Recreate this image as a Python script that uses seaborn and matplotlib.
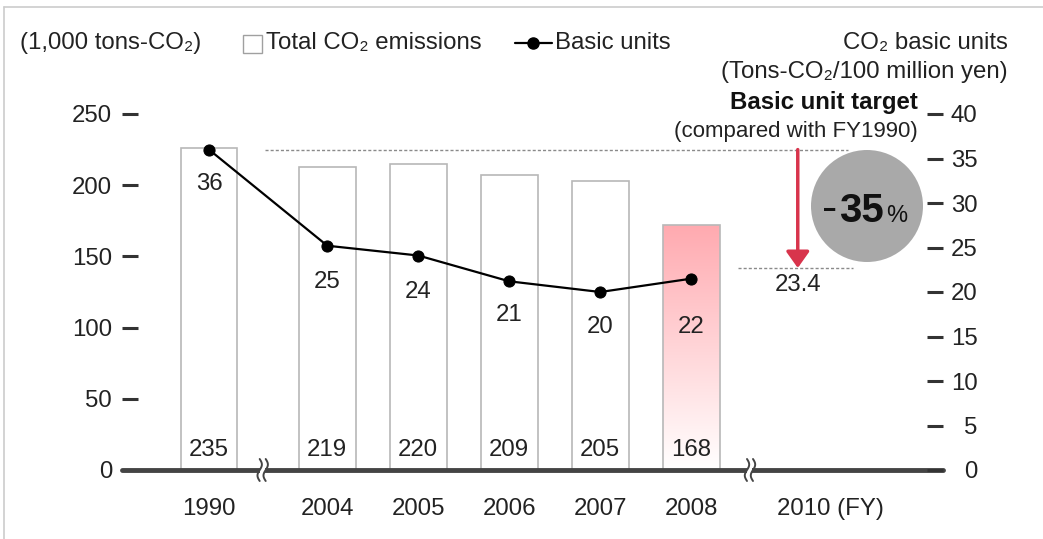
"""
CO2 emissions (bars) and CO2 basic units (line), with the FY2010 target.
"""

import numpy as np
import pandas as pd
import matplotlib
matplotlib.use("Agg")
import matplotlib.pyplot as plt
import seaborn as sns
from matplotlib.colors import LinearSegmentedColormap
from matplotlib.lines import Line2D
from matplotlib.patches import Rectangle, Ellipse
from matplotlib.transforms import ScaledTranslation

# data
years = ["1990", "2004", "2005", "2006", "2007", "2008"]
total_emissions = [226, 213, 215, 207, 203, 172]          # bar heights as drawn
total_labels = ["235", "219", "220", "209", "205", "168"]
basic_units = [36, 25.2, 24.1, 21.2, 20.0, 21.5]
unit_labels = ["36", "25", "24", "21", "20", "22"]
target_year = "2010 (FY)"
base_unit = 36
target_unit = 22.7
target_label = "23.4"
reduction = "35"
left_ticks = [0, 50, 100, 150, 200, 250]
right_ticks = [0, 5, 10, 15, 20, 25, 30, 35, 40]

W, H = 1043, 539
TXT = "#222222"
FS = 17.3


def fx(px):
    return px / W


def fy(py):
    return 1 - py / H


sns.set_theme(style="white")
plt.rcParams["font.family"] = ["Liberation Sans", "DejaVu Sans"]

fig = plt.figure(figsize=(W / 100, H / 100), dpi=100)
ax = fig.add_axes([fx(122), fy(470), (943 - 122) / W, (470 - 114) / H])
ax2 = ax.twinx()

# x layout: gap after 1990 is wider, 2010 target sits further right
pos = np.array([0, 1.3, 2.3, 3.3, 4.3, 5.3])
pos_2010 = 6.47
df = pd.DataFrame({"pos": pos, "total": total_emissions, "unit": basic_units})

sns.barplot(data=df, x="pos", y="total", native_scale=True, width=0.62,
            color="white", saturation=1, edgecolor="#b8b8b8", linewidth=1.2,
            ax=ax)

# 2008 bar: pink gradient
bar = max(ax.patches, key=lambda p: p.get_x())
bar.set_facecolor("none")
x0, w, h = bar.get_x(), bar.get_width(), bar.get_height()
cmap = LinearSegmentedColormap.from_list("pinkfade", ["#ffffff", "#ffaab0"])
grad = np.linspace(0, 1, 256).reshape(-1, 1)
img = ax.imshow(grad, extent=[x0, x0 + w, 0, h], origin="lower", cmap=cmap,
                aspect="auto", zorder=bar.get_zorder() - 0.1)
img.set_clip_path(bar)
ax.set_xlim(-0.956, 8.066)
ax.set_ylim(0, 250)

for p, lbl in zip(pos, total_labels):
    ax.text(p, 14, lbl, ha="center", va="center", fontsize=FS, color=TXT)

ax.axhline(0, color="#444444", lw=3.5, zorder=5, clip_on=False)

# basic units line
sns.lineplot(data=df, x="pos", y="unit", marker="o", color="black",
             markersize=8, markeredgecolor="black", linewidth=1.6, ax=ax2)
ax2.set_ylim(0, 40)
drops = [25, 26, 26, 24.5, 25, 35]
for p, v, lbl, d in zip(pos, basic_units, unit_labels, drops):
    ax2.annotate(lbl, (p, v), xytext=(0, -d), textcoords="offset points",
                 ha="center", va="center", fontsize=FS, color=TXT)

# target annotation
ax2.hlines(base_unit, pos[0] + 0.62, pos_2010 + 0.55, colors="#8a8a8a",
           lw=1, linestyles=(0, (2.2, 1.5)))
ax2.hlines(target_unit, pos_2010 - 0.66, pos_2010 + 0.61, colors="#8a8a8a",
           lw=1, linestyles=(0, (2.2, 1.5)))
ax2.annotate("", xy=(pos_2010, target_unit), xytext=(pos_2010, base_unit),
             arrowprops=dict(arrowstyle="-|>,head_length=0.45,head_width=0.32",
                             color="#d8344c", lw=2.5, mutation_scale=22,
                             shrinkA=0, shrinkB=0))
ax2.annotate(target_label, (pos_2010, target_unit), xytext=(0, -12.5),
             textcoords="offset points", ha="center", va="center",
             fontsize=FS, color=TXT)

# axes / ticks
for a in (ax, ax2):
    a.set_xlabel("")
    a.set_ylabel("")
    for s in a.spines.values():
        s.set_visible(False)
ax.set_xticks(list(pos) + [pos_2010])
ax.set_xticklabels(years + [target_year])
ax.tick_params(axis="x", length=0, pad=20.5, labelsize=FS, labelcolor=TXT)
last = ax.get_xticklabels()[-1]
last.set_transform(last.get_transform() + ScaledTranslation(0.33, 0, fig.dpi_scale_trans))
ax.set_yticks(left_ticks)
ax.tick_params(axis="y", direction="in", length=11.5, width=2.2,
               color="#333333", pad=7.2, labelsize=FS, labelcolor=TXT)
ax2.set_yticks(right_ticks)
ax2.tick_params(axis="y", direction="in", length=11.5, width=2.2,
                color="#333333", pad=25, labelsize=FS, labelcolor=TXT)
for t in ax2.get_yticklabels():
    t.set_horizontalalignment("right")

# axis break marks
fig.canvas.draw()
inv = fig.transFigure.inverted()
for xb in [(pos[0] + pos[1]) / 2 - 0.06, (pos[-1] + pos_2010) / 2 + 0.06]:
    cx, cy = ax.transData.transform((xb, 0))
    fig.patches.append(Rectangle(inv.transform((cx - 2.5, cy - 4)),
                                 5 / W, 8 / H, transform=fig.transFigure,
                                 facecolor="white", edgecolor="none", zorder=10))
    t = np.linspace(-1, 1, 30)
    for dx in (-3, 3):
        pts = np.column_stack([cx + dx + 2.2 * np.sin(np.pi * t), cy + 11 * t])
        fp = inv.transform(pts)
        fig.lines.append(Line2D(fp[:, 0], fp[:, 1], transform=fig.transFigure,
                                color="#444444", lw=1.4, zorder=11))

# percentage bubble
fig.patches.append(Ellipse((fx(867), fy(206)), 112 / W, 112 / H,
                           transform=fig.transFigure, facecolor="#a9a9a9",
                           edgecolor="none", zorder=3))
fig.text(fx(822), fy(222), "-", fontsize=33, color="#111111", va="baseline")
fig.text(fx(839), fy(222), reduction, fontsize=29, fontweight="bold",
         color="#111111", va="baseline")
fig.text(fx(886), fy(222), "%", fontsize=17, color="#111111", va="baseline")

# header texts and legend
fig.text(fx(20), fy(43), "(1,000 tons-CO₂)", fontsize=FS, color=TXT, va="center")
fig.patches.append(Rectangle((fx(243), fy(53)), 19 / W, 18 / H,
                             transform=fig.transFigure, facecolor="white",
                             edgecolor="#a0a0a0", lw=1))
fig.text(fx(266), fy(43), "Total CO₂ emissions", fontsize=FS, color=TXT, va="center")
fig.lines.append(Line2D([fx(515), fx(552)], [fy(43), fy(43)],
                        transform=fig.transFigure, color="black", lw=1.6))
fig.lines.append(Line2D([fx(533)], [fy(43)], transform=fig.transFigure,
                        marker="o", markersize=8, color="black"))
fig.text(fx(555), fy(43), "Basic units", fontsize=FS, color=TXT, va="center")
fig.text(fx(1008), fy(43), "CO₂ basic units", fontsize=FS, color=TXT,
         ha="right", va="center")
fig.text(fx(1008), fy(72), "(Tons-CO₂/100 million yen)", fontsize=FS,
         color=TXT, ha="right", va="center")
fig.text(fx(918), fy(103), "Basic unit target", fontsize=FS, fontweight="bold",
         color="#111111", ha="right", va="center")
fig.text(fx(918), fy(131), "(compared with FY1990)", fontsize=16, color=TXT,
         ha="right", va="center")

# thin frame on the left and top
fig.lines.append(Line2D([fx(4), fx(4)], [0, fy(7)], transform=fig.transFigure,
                        color="#cccccc", lw=1.2))
fig.lines.append(Line2D([fx(4), 1], [fy(7), fy(7)], transform=fig.transFigure,
                        color="#cccccc", lw=1.2))

fig.savefig("out.png", dpi=100)
